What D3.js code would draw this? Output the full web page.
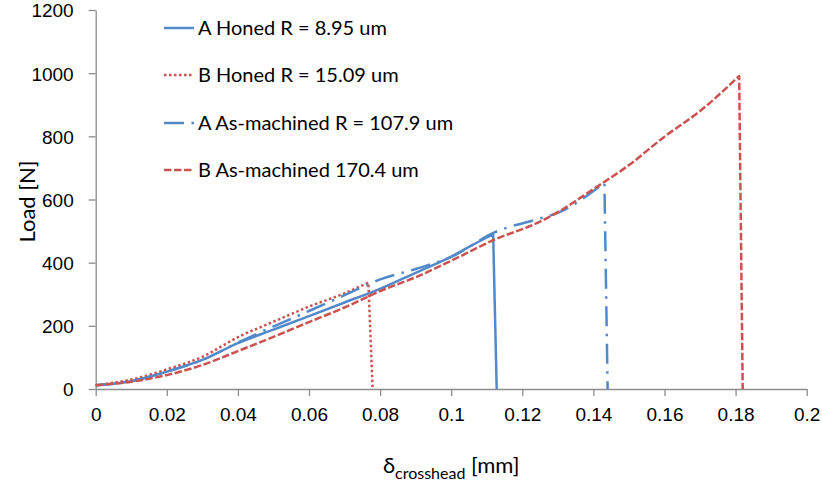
<!DOCTYPE html>
<html>
<head>
<meta charset="utf-8">
<script src="https://cdn.jsdelivr.net/npm/d3@7"></script>
<style>
  body { margin: 0; background: #fff; }
  svg { font-family: Lato, "Open Sans", sans-serif; }
</style>
</head>
<body>
<svg id="chart" width="822" height="487"></svg>
<script>
// Series values (x in mm, load in N)
const honedAX = [0, 0.01, 0.02, 0.03, 0.04, 0.05, 0.06, 0.07, 0.08, 0.09, 0.1, 0.105, 0.1118, 0.1128];
const honedAY = [12, 25, 55, 92, 145, 188, 231, 274, 317, 368, 419, 450, 490, 0];

const honedBX = [0, 0.01, 0.02, 0.03, 0.04, 0.05, 0.06, 0.07, 0.0767, 0.0779];
const honedBY = [12, 30, 62, 102, 164, 213, 261, 303, 337, 0];

const machinedAX = [0, 0.01, 0.02, 0.03, 0.04, 0.06, 0.07, 0.08, 0.09, 0.1, 0.112, 0.125, 0.1296, 0.1431, 0.144];
const machinedAY = [12, 25, 55, 92, 147, 247, 297, 347, 380, 418, 495, 540, 556, 653, 0];

const machinedBX = [0, 0.01, 0.02, 0.03, 0.04, 0.05, 0.06, 0.07, 0.08, 0.09, 0.1, 0.112, 0.125, 0.13, 0.14, 0.15, 0.16, 0.17, 0.181, 0.182];
const machinedBY = [12, 23, 44, 76, 120, 165, 212, 258, 310, 354, 406, 472, 530, 560, 633, 709, 799, 880, 991, 0];

const seriesNames = ["A Honed R = 8.95 um", "B Honed R = 15.09 um", "A As-machined R = 107.9 um", "B As-machined 170.4 um"];
const xTicks = [0, 0.02, 0.04, 0.06, 0.08, 0.1, 0.12, 0.14, 0.16, 0.18, 0.2];
const yTicks = [0, 200, 400, 600, 800, 1000, 1200];

const blue = "#5189c9";
const red = "#c9534f";

const series = [
  { name: seriesNames[0], xs: honedAX, ys: honedAY, color: blue, dash: null },
  { name: seriesNames[1], xs: honedBX, ys: honedBY, color: red, dash: "2.5,2.5" },
  { name: seriesNames[2], xs: machinedAX, ys: machinedAY, color: blue, dash: "20,7.5,2.5,7.5" },
  { name: seriesNames[3], xs: machinedBX, ys: machinedBY, color: red, dash: "7.5,2.5" }
];

const svg = d3.select("#chart");

const x = d3.scaleLinear().domain([0, 0.2]).range([95.7, 806.7]);
const y = d3.scaleLinear().domain([0, 1200]).range([389, 10]);

// axes
const xAxis = d3.axisBottom(x)
  .tickValues(xTicks)
  .tickFormat(d => String(+d.toFixed(2)))
  .tickSize(7)
  .tickPadding(12)
  .tickSizeOuter(0);

const yAxis = d3.axisLeft(y)
  .tickValues(yTicks)
  .tickFormat(d => String(d))
  .tickSize(7)
  .tickPadding(15)
  .tickSizeOuter(0);

const gx = svg.append("g").attr("transform", `translate(0,${y(0)})`).call(xAxis);
const gy = svg.append("g").attr("transform", `translate(${x(0)},0)`).call(yAxis);

[gx, gy].forEach(g => {
  g.selectAll("path, line").attr("stroke", "#8c8c8c").attr("stroke-width", 1.3);
  g.selectAll("text").attr("fill", "#000").style("font-size", "19px");
});
gy.selectAll("text").attr("dy", "0.36em");

// lines: smooth rise, straight drop at failure
const rise = d3.line()
  .x(d => x(d[0]))
  .y(d => y(d[1]))
  .curve(d3.curveMonotoneX);

series.forEach(s => {
  const pts = s.xs.map((v, i) => [v, s.ys[i]]);
  const last = pts[pts.length - 1];
  svg.append("path")
    .attr("fill", "none")
    .attr("stroke", s.color)
    .attr("stroke-width", 2.5)
    .attr("stroke-dasharray", s.dash)
    .attr("stroke-linejoin", "round")
    .attr("d", rise(pts.slice(0, -1)) + `L${x(last[0])},${y(last[1])}`);
});

// legend
const legendY = [28, 75, 123, 170];
const legend = svg.append("g");
series.forEach((s, i) => {
  legend.append("line")
    .attr("x1", 164).attr("x2", 194)
    .attr("y1", legendY[i]).attr("y2", legendY[i])
    .attr("stroke", s.color)
    .attr("stroke-width", 2.5)
    .attr("stroke-dasharray", s.dash);
  legend.append("text")
    .attr("x", 198)
    .attr("y", legendY[i])
    .attr("dy", "0.36em")
    .style("font-size", "20px")
    .text(s.name);
});

// axis titles
svg.append("text")
  .attr("transform", `translate(35,${(y(0) + y(1200)) / 2 + 2}) rotate(-90)`)
  .attr("text-anchor", "middle")
  .style("font-size", "22px")
  .text("Load [N]");

const xt = svg.append("text")
  .attr("x", (x(0) + x(0.2)) / 2)
  .attr("y", 473)
  .attr("text-anchor", "middle")
  .style("font-size", "22px");
xt.append("tspan").text("δ");
xt.append("tspan").attr("dy", 6).style("font-size", "16px").text("crosshead");
xt.append("tspan").attr("dy", -6).text(" [mm]");
</script>
</body>
</html>
